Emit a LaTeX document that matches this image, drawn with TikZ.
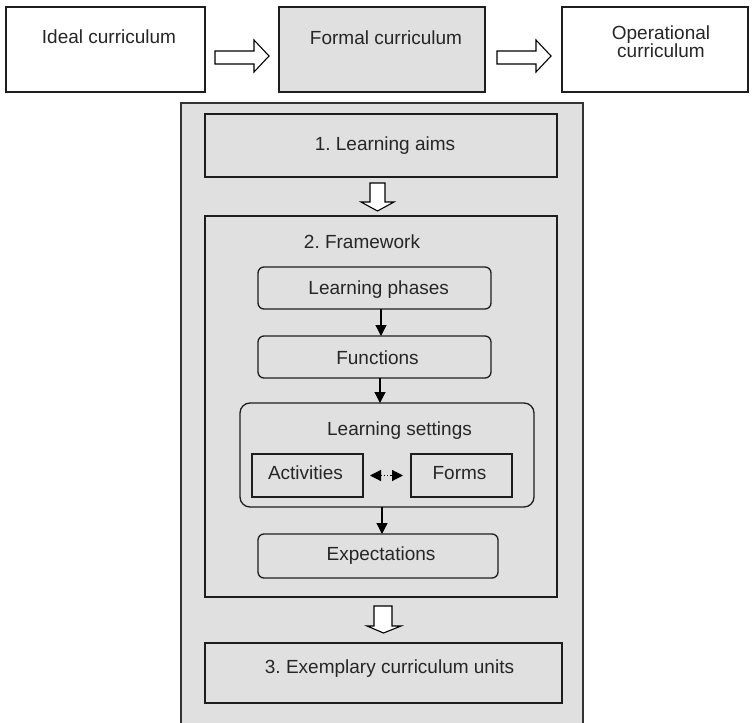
\documentclass[tikz,border=0pt]{standalone}
\usepackage{fontspec}
\setmainfont{Liberation Sans}
\usetikzlibrary{arrows.meta,calc}
\definecolor{bg}{RGB}{224,224,224}
\definecolor{edge}{RGB}{30,30,30}
\tikzset{
  box/.style={draw=edge, line width=1.3pt, inner sep=0pt, outer sep=0pt},
  rbox/.style={box, rounded corners=6pt},
  txt/.style={font=\fontsize{19}{22}\selectfont\frenchspacing, inner sep=0pt, anchor=base, text=black!85},
  arr/.style={line width=1.3pt, -{Triangle[width=11pt,length=11pt]}},
  darr/.style={line width=1.2pt, dotted, {Triangle[width=11pt,length=11pt]}-{Triangle[width=11pt,length=11pt]}},
  hollow/.style={draw=black, fill=white, line width=1.1pt, line join=miter}
}
\begin{document}
\begin{tikzpicture}[x=1pt,y=-1pt]
\useasboundingbox (0,0) rectangle (754,722);
\clip (0,0) rectangle (754,722);
% top row
\node[box, fill=white, minimum width=199pt, minimum height=85pt] (ideal) at (105.5,49.5) {};
\node[box, fill=bg, minimum width=206pt, minimum height=85pt] (formal) at (382,49.5) {};
\node[box, fill=white, minimum width=186pt, minimum height=85pt] (oper) at (655,49.5) {};
\node[txt] (idealt) at (109,44) {Ideal curriculum};
\node[txt] (formalt) at (386,45) {Formal curriculum};
\node[txt] (oper1) at (661,39.5) {Operational};
\node[txt] (oper2) at (661,58) {curriculum};
% hollow arrows
\draw[hollow, shift={(ideal.east)}] (10,1.5) -- (49,1.5) -- (49,-9.5) -- (64,6.5) -- (49,22.5) -- (49,14.5) -- (10,14.5) -- cycle;
\draw[hollow, shift={(formal.east)}] (12,1.5) -- (51,1.5) -- (51,-9.5) -- (66,6.5) -- (51,22.5) -- (51,14.5) -- (12,14.5) -- cycle;
% outer container
\node[box, draw=black!80, fill=bg, minimum width=402pt, minimum height=637pt] (outer) at (382,421.5) {};
% 1. learning aims
\node[box, minimum width=352pt, minimum height=63pt] (aims) at (381,145.5) {};
\node[txt] (aimst) at (385,151) {1. Learning aims};
% 2. framework
\node[box, minimum width=352pt, minimum height=381pt] (frame) at (381,406.5) {};
\node[txt] (framet) at (362,248.6) {2. Framework};
\node[rbox, minimum width=233pt, minimum height=42pt] (phases) at (374.5,288) {};
\node[txt] (phasest) at (378.7,294) {Learning phases};
\node[rbox, minimum width=233pt, minimum height=42pt] (funcs) at (374.5,357) {};
\node[txt] (funcst) at (377.5,364) {Functions};
\node[rbox, rounded corners=10pt, minimum width=294pt, minimum height=104pt] (settings) at (387,455) {};
\node[txt] (settingst) at (399.5,435.6) {Learning settings};
\node[box, minimum width=111pt, minimum height=43pt] (activ) at (307.5,475.5) {};
\node[txt] (activt) at (305.5,479) {Activities};
\node[box, minimum width=101pt, minimum height=43pt] (forms) at (461.5,475.5) {};
\node[txt] (formst) at (459.5,479) {Forms};
\node[rbox, minimum width=240pt, minimum height=44pt] (expect) at (378,556) {};
\node[txt] (expectt) at (381,560) {Expectations};
% 3. exemplary units
\node[box, minimum width=357pt, minimum height=60pt] (exempl) at (383.5,673) {};
\node[txt] (exemplt) at (389.5,673.6) {3. Exemplary curriculum units};
% vertical hollow arrows
\draw[hollow, shift={(aims.south)}] (-11,6) -- (4,6) -- (4,25) -- (13,25) -- (-3.5,34) -- (-20,25) -- (-11,25) -- cycle;
\draw[hollow, shift={(frame.south)}] (-7,9) -- (11,9) -- (11,29) -- (20,29) -- (2.5,36) -- (-14,29) -- (-7,29) -- cycle;
% connectors
\draw[arr] ([xshift=6.5pt]phases.south) -- ([xshift=6.5pt]funcs.north);
\draw[arr] ([xshift=5.5pt]funcs.south) -- ([xshift=5.5pt]funcs.south |- settings.north);
\draw[arr] ([xshift=4pt]expect.north |- settings.south) -- ([xshift=4pt]expect.north);
\draw[darr] ([xshift=7pt]activ.east) -- ([xshift=-8pt]forms.west);
\end{tikzpicture}
\end{document}
